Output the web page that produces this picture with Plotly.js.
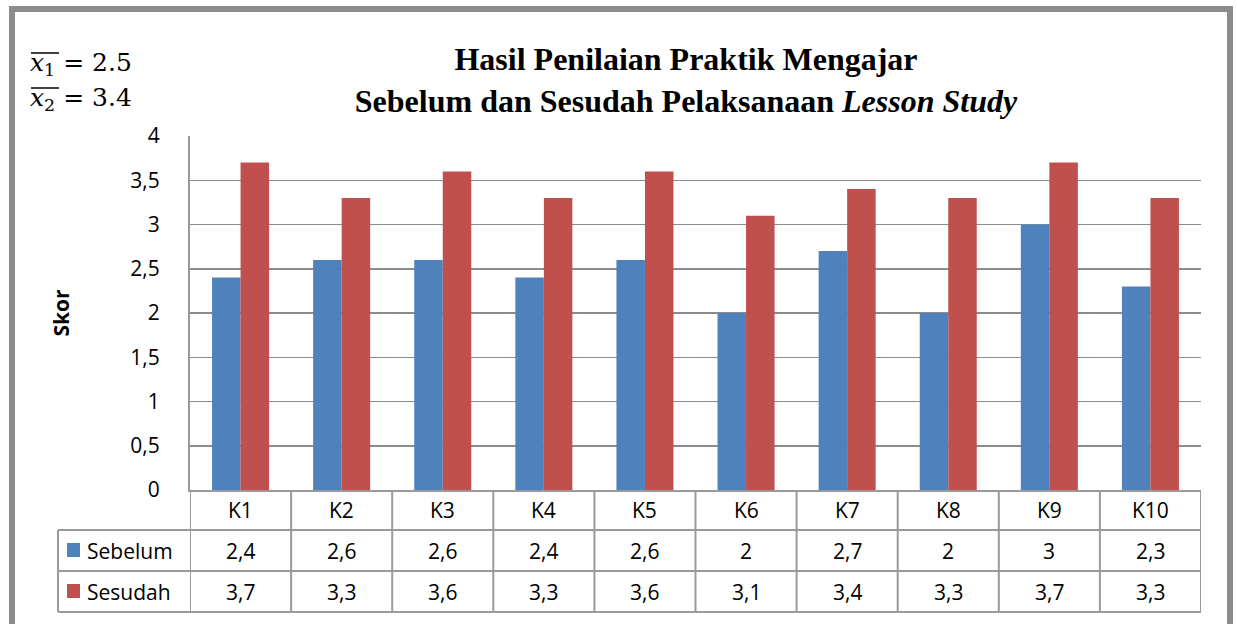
<!DOCTYPE html>
<html>
<head>
<meta charset="utf-8">
<script src="https://cdn.plot.ly/plotly-3.0.1.min.js"></script>
<style>html,body{margin:0;padding:0;background:#fff;}#chart{width:1237px;height:624px;}</style>
</head>
<body>
<div id="chart"></div>
<script>
// ---- data ----
const categories = ['K1','K2','K3','K4','K5','K6','K7','K8','K9','K10'];
const seriesNames = ['Sebelum','Sesudah'];
const sebelum = [2.4,2.6,2.6,2.4,2.6,2,2.7,2,3,2.3];
const sesudah = [3.7,3.3,3.6,3.3,3.6,3.1,3.4,3.3,3.7,3.3];
const meanLabels = ['2.5','3.4'];
const titleLines = ['Hasil Penilaian Praktik Mengajar','Sebelum dan Sesudah Pelaksanaan <i>Lesson Study</i>'];
const yTitle = 'Skor';

// ---- layout geometry ----
const W = 1237, H = 624;
const M = {l:190, r:36, t:136, b:134};
const PW = W - M.l - M.r, PH = H - M.t - M.b;
const py = p => (H - M.b - p) / PH;     // pixel y -> paper y
const px = p => (p - M.l) / PW;         // pixel x -> paper x
const colors = ['#4F81BD','#C0504D'];
const lineCol = '#9a9a9a';
const font = 'Open Sans, Noto Sans, sans-serif';
const fs = 21;
const fmt = v => String(v).replace('.', ',');

const traces = [sebelum, sesudah].map((vals, i) => ({
  type: 'bar', name: seriesNames[i], x: categories, y: vals,
  marker: {color: colors[i]}, showlegend: false, hoverinfo: 'x+y+name'
}));

const shapes = [];
const annotations = [];
// table horizontal lines
shapes.push({type:'line', xref:'paper', yref:'paper', x0:0, x1:1, y0:py(530), y1:py(530), line:{color:lineCol,width:2}});
shapes.push({type:'line', xref:'paper', yref:'paper', x0:px(58), x1:1, y0:py(530), y1:py(530), line:{color:lineCol,width:2}});
shapes.push({type:'line', xref:'paper', yref:'paper', x0:px(58), x1:1, y0:py(571), y1:py(571), line:{color:lineCol,width:2}});
shapes.push({type:'line', xref:'paper', yref:'paper', x0:px(58), x1:1, y0:py(612), y1:py(612), line:{color:lineCol,width:2}});
shapes.push({type:'line', xref:'paper', yref:'paper', x0:px(58), x1:px(58), y0:py(530), y1:py(612), line:{color:lineCol,width:2}});
// vertical table lines at category boundaries
for (let k = 0; k <= categories.length; k++) {
  shapes.push({type:'line', xref:'x', yref:'paper', x0:k-0.5, x1:k-0.5, y0:py(490), y1:py(612), line:{color:lineCol,width:2}});
}
// header + values
const cell = (x, y, text) => ({x, xref:'x', yref:'paper', y, xanchor:'center', yanchor:'middle', text, showarrow:false, font:{family:font,size:fs,color:'#000'}});
categories.forEach((c, i) => {
  annotations.push(cell(c, py(510), c));
  annotations.push(cell(c, py(550.5), fmt(sebelum[i])));
  annotations.push(cell(c, py(591.5), fmt(sesudah[i])));
});
// legend keys in table
seriesNames.forEach((n, i) => {
  const cy = [550, 591][i];
  shapes.push({type:'rect', xref:'paper', yref:'paper', x0:px(67), x1:px(80), y0:py(cy-7), y1:py(cy+7), fillcolor:colors[i], line:{width:0}});
  annotations.push({xref:'paper', yref:'paper', x:px(85), y:py(cy+0.5), xanchor:'left', yanchor:'middle', text:n, showarrow:false, font:{family:font,size:fs,color:'#000'}});
});
// mean labels with overline
meanLabels.forEach((m, i) => {
  const cy = [64, 99][i];
  annotations.push({xref:'paper', yref:'paper', x:px(28), y:py(cy), xanchor:'left', yanchor:'middle', showarrow:false,
    text:'<i>x</i><sub>' + (i+1) + '</sub> = ' + m, font:{family:'DejaVu Serif, serif', size:25, color:'#000'}});
  shapes.push({type:'line', xref:'paper', yref:'paper', x0:px(31), x1:px(59), y0:py(cy-11), y1:py(cy-11), line:{color:'#000',width:1.5}});
});
// outer frame
shapes.push({type:'rect', xref:'paper', yref:'paper', x0:px(12), x1:px(1230), y0:py(9), y1:py(640), line:{color:'#8c8c8c',width:6}, fillcolor:'rgba(0,0,0,0)'});

const layout = {
  width: W, height: H, margin: M,
  paper_bgcolor:'#fff', plot_bgcolor:'#fff',
  separators: ', ',
  barmode:'group', bargap:0.436, bargroupgap:0,
  title:{text: titleLines.join('<br>'), x:686/W, xanchor:'center', y:1-70/H, yanchor:'middle',
    font:{family:'Liberation Serif, Times New Roman, serif', size:32, color:'#000', weight:'bold'}},
  xaxis:{type:'category', range:[-0.5, categories.length-0.5], showticklabels:false, ticks:'',
    showline:true, linecolor:lineCol, linewidth:2, showgrid:false, zeroline:false, fixedrange:true},
  yaxis:{range:[0,4], dtick:0.5, tick0:0, showgrid:true, gridcolor:'#8c8c8c', gridwidth:1.5,
    showline:true, linecolor:lineCol, linewidth:2, zeroline:false, ticks:'', ticklabelstandoff:24,
    tickfont:{family:font, size:fs, color:'#000'},
    title:{text:yTitle, standoff:55, font:{family:font, size:fs, color:'#000', weight:'bold'}}, fixedrange:true},
  shapes, annotations
};
Plotly.newPlot('chart', traces, layout, {displayModeBar:false, staticPlot:true});
</script>
</body>
</html>
